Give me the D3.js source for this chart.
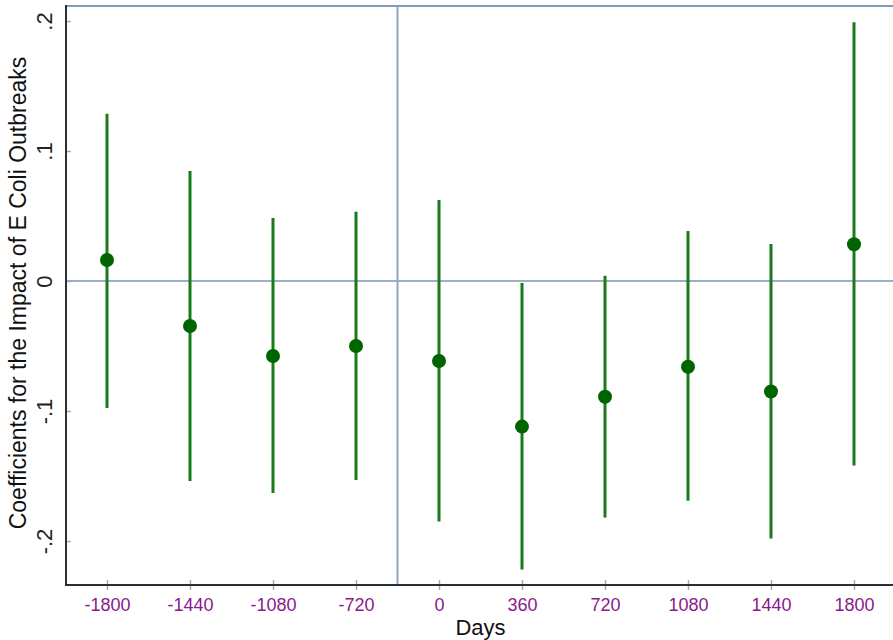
<!DOCTYPE html>
<meta charset="utf-8">
<style>
    html, body { margin: 0; padding: 0; background: #fff; }
    svg { display: block; font-family: "Liberation Sans", Arial, sans-serif; }
</style>
<div id="chart"></div>
<script src="https://d3js.org/d3.v7.min.js"></script>
<script>
    // event-study values
    const days = ["-1800", "-1440", "-1080", "-720", "0", "360", "720", "1080", "1440", "1800"];
    const coef = [0.0162, -0.0346, -0.0577, -0.0500, -0.0615, -0.1120, -0.0890, -0.0660, -0.0850, 0.0283];
    const upper = [0.1287, 0.0846, 0.0485, 0.0533, 0.0623, -0.0015, 0.0040, 0.0385, 0.0285, 0.1990];
    const lower = [-0.0977, -0.1538, -0.1630, -0.1530, -0.1850, -0.2220, -0.1820, -0.1690, -0.1980, -0.1420];
    const yTicks = [-0.2, -0.1, 0, 0.1, 0.2];
    const yTickLabels = ["-.2", "-.1", "0", ".1", ".2"];

    const width = 893, height = 640;
    const svg = d3.select("#chart").append("svg")
        .attr("width", width)
        .attr("height", height);

    // categories are evenly spaced; index scale
    let x = d3.scaleLinear().domain([-0.5, 9.5]).range([65.5, 895.5]);
    let y = d3.scaleLinear().domain([-0.2, 0.2]).range([541, 21]);

    const plotTop = 6, plotBottom = 585, plotLeft = 66;

    // top border
    svg.append("line")
        .attr("x1", plotLeft).attr("x2", width)
        .attr("y1", plotTop).attr("y2", plotTop)
        .attr("stroke", "#7f9bb5").attr("stroke-width", 2);

    // reference lines
    svg.append("line")
        .attr("x1", plotLeft).attr("x2", width)
        .attr("y1", y(0)).attr("y2", y(0))
        .attr("stroke", "#9cb0c4").attr("stroke-width", 2);
    svg.append("line")
        .attr("x1", x(3.5)).attr("x2", x(3.5))
        .attr("y1", plotTop).attr("y2", plotBottom)
        .attr("stroke", "#90a6bb").attr("stroke-width", 2);

    // x axis
    const xAxis = svg.append("g")
        .attr("transform", `translate(0,${plotBottom})`)
        .call(d3.axisBottom(x).tickValues(d3.range(days.length))
            .tickFormat(i => days[i]).tickSize(5).tickSizeOuter(0));
    xAxis.select(".domain").remove();
    xAxis.selectAll(".tick line").attr("y1", -5).attr("stroke", "#aaa").attr("stroke-width", 1.5);
    xAxis.selectAll(".tick text")
        .attr("y", 13).attr("fill", "#8b1a8b")
        .style("font-size", "18px");
    svg.append("line")
        .attr("x1", plotLeft - 1).attr("x2", width)
        .attr("y1", plotBottom).attr("y2", plotBottom)
        .attr("stroke", "#2b2f33").attr("stroke-width", 2);

    // y axis
    const yAxis = svg.append("g")
        .attr("transform", `translate(${plotLeft},0)`)
        .call(d3.axisLeft(y).tickValues(yTicks)
            .tickFormat((d, i) => yTickLabels[i]).tickSize(5).tickSizeOuter(0));
    yAxis.select(".domain").remove();
    yAxis.selectAll(".tick line").attr("x2", 5).attr("stroke", "#aaa").attr("stroke-width", 1.5);
    yAxis.selectAll(".tick text")
        .attr("x", null).attr("dy", null)
        .attr("transform", "translate(-14,0) rotate(-90)")
        .attr("text-anchor", "middle")
        .attr("fill", "#222")
        .style("font-size", "22px");
    svg.append("line")
        .attr("x1", plotLeft).attr("x2", plotLeft)
        .attr("y1", plotTop - 1).attr("y2", plotBottom + 1)
        .attr("stroke", "#2b2f33").attr("stroke-width", 2);

    // confidence intervals
    svg.selectAll(".ci")
        .data(days)
        .enter().append("line")
        .attr("class", "ci")
        .attr("x1", (d, i) => x(i)).attr("x2", (d, i) => x(i))
        .attr("y1", (d, i) => y(upper[i])).attr("y2", (d, i) => y(lower[i]))
        .attr("stroke", "#1b7a1b").attr("stroke-width", 3);

    // point estimates
    svg.selectAll(".pt")
        .data(days)
        .enter().append("circle")
        .attr("class", "pt")
        .attr("cx", (d, i) => x(i))
        .attr("cy", (d, i) => y(coef[i]))
        .attr("r", 7)
        .attr("fill", "#006400");

    // titles
    svg.append("text")
        .attr("x", x(4.5)).attr("y", 635)
        .attr("text-anchor", "middle")
        .attr("fill", "#111")
        .style("font-size", "22px")
        .text("Days");
    svg.append("text")
        .attr("transform", `translate(26,293) rotate(-90)`)
        .attr("text-anchor", "middle")
        .attr("fill", "#111")
        .style("font-size", "23px")
        .text("Coefficients for the Impact of E Coli Outbreaks");
</script>
